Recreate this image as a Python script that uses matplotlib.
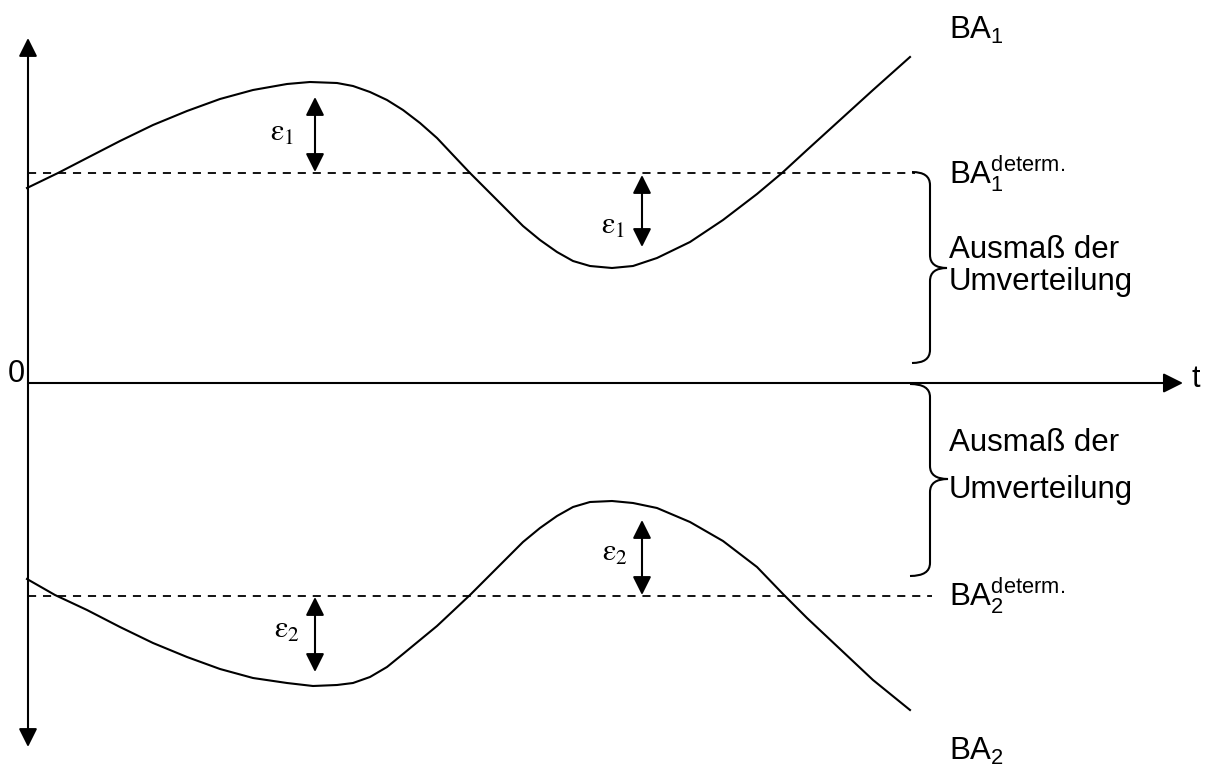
import matplotlib
matplotlib.use('Agg')
import matplotlib.pyplot as plt
from matplotlib.path import Path
from matplotlib.patches import PathPatch

plt.rcParams['font.family'] = ['Liberation Sans', 'DejaVu Sans']
plt.rcParams['mathtext.fontset'] = 'custom'
plt.rcParams['mathtext.rm'] = 'Liberation Sans'

# curve values (t, level); picture units, y grows downwards
ba1_t = [27, 58, 87, 120, 153, 187, 220, 253, 287, 310, 337, 353, 370, 387, 403,
         420, 437, 453, 470, 490, 507, 523, 540, 557, 573, 590, 612, 633, 657, 690,
         723, 757, 782, 807, 840, 873, 910]
ba1_y = [188, 173, 158, 141, 125, 111, 99, 90, 84, 82, 83, 86, 92, 100, 110,
         123, 138, 155, 173, 193, 210, 226, 240, 252, 261, 266, 268, 266, 258, 242,
         220, 194, 173, 150, 120, 90, 57]

ba2_t = [27, 55, 87, 120, 153, 187, 220, 253, 287, 313, 337, 353, 370, 387, 403,
         420, 437, 453, 470, 490, 507, 523, 540, 557, 573, 590, 612, 633, 657, 690,
         723, 757, 783, 807, 840, 873, 910]
ba2_y = [579, 595, 610, 627, 643, 657, 669, 678, 683, 686, 685, 683, 677, 667, 654,
         640, 626, 611, 595, 575, 558, 542, 528, 516, 507, 502, 501, 503, 508, 522,
         541, 567, 594, 618, 649, 680, 710]

ba1_det = 173
ba2_det = 596
zero = 383

# epsilon arrows: (t, from, to)
eps_arrows = [(315, 97, 172), (642, 175, 247), (315, 597, 672), (642, 520, 595)]
eps_labels = [(282, 133, '1'), (613, 226, '1'), (287, 630, '2'), (615, 553, '2')]

fig = plt.figure(figsize=(12.08, 7.65), dpi=100)
ax = fig.add_axes([0, 0, 1, 1])
ax.set_xlim(0, 1208)
ax.set_ylim(765, 0)
ax.axis('off')

head = '<|-|>,head_length=0.4,head_width=0.2'

# axes
ax.annotate('', xy=(28, 38), xytext=(28, 747),
            arrowprops=dict(arrowstyle=head, color='black', lw=1.5,
                            mutation_scale=28, shrinkA=0, shrinkB=0))
ax.annotate('', xy=(1183, zero), xytext=(28, zero),
            arrowprops=dict(arrowstyle='-|>,head_length=0.4,head_width=0.2',
                            color='black', lw=1.5,
                            mutation_scale=30, shrinkA=0, shrinkB=0))
ax.text(16, 374, '0', fontsize=22, ha='center', va='center')
ax.text(1196, 379, 't', fontsize=22, ha='center', va='center')

# deterministic levels
ax.plot([28, 915], [ba1_det, ba1_det], color='black', lw=1.3, dashes=(4.5, 3.8))
ax.plot([28, 932], [ba2_det, ba2_det], color='black', lw=1.3, dashes=(4.5, 3.8))

# curves
ax.plot(ba1_t, ba1_y, color='black', lw=1.5, solid_joinstyle='round')
ax.plot(ba2_t, ba2_y, color='black', lw=1.5, solid_joinstyle='round')

for t, a, b in eps_arrows:
    ax.annotate('', xy=(t, a), xytext=(t, b),
                arrowprops=dict(arrowstyle=head, color='black', lw=1.5,
                                mutation_scale=28, shrinkA=0, shrinkB=0))
for t, y, k in eps_labels:
    ax.text(t, y, r'$\mathrm{\varepsilon}_\mathrm{' + k + '}$', math_fontfamily='stix',
            fontsize=22, ha='center', va='center')


def brace(x0, top, bottom, tip_x, tip_y, body_x):
    r = 13
    verts = [(x0, top), (body_x, top), (body_x, top + r),
             (body_x, tip_y - r), (body_x, tip_y), (tip_x, tip_y),
             (body_x, tip_y), (body_x, tip_y + r),
             (body_x, bottom - r), (body_x, bottom), (x0, bottom)]
    codes = [Path.MOVETO, Path.CURVE3, Path.CURVE3,
             Path.LINETO, Path.CURVE3, Path.CURVE3,
             Path.CURVE3, Path.CURVE3,
             Path.LINETO, Path.CURVE3, Path.CURVE3]
    ax.add_patch(PathPatch(Path(verts, codes), fill=False, lw=1.5, ec='black'))


brace(912, 172, 363, 947, 268, 930)
brace(910, 384, 576, 948, 479, 930)

# labels
fs = 22.5
ax.text(949, 30, r'$\mathrm{BA}_1$', fontsize=fs, va='center')
ax.text(949, 174, r'$\mathrm{BA}_1^{\mathrm{determ.}}$', fontsize=fs, va='center')
ax.text(949, 250, 'Ausmaß der', fontsize=fs, va='center')
ax.text(949, 282, 'Umverteilung', fontsize=fs, va='center')
ax.text(949, 443, 'Ausmaß der', fontsize=fs, va='center')
ax.text(949, 490, 'Umverteilung', fontsize=fs, va='center')
ax.text(949, 596, r'$\mathrm{BA}_2^{\mathrm{determ.}}$', fontsize=fs, va='center')
ax.text(949, 760, r'$\mathrm{BA}_2$', fontsize=fs, va='baseline')

fig.savefig('out.png', dpi=100)
